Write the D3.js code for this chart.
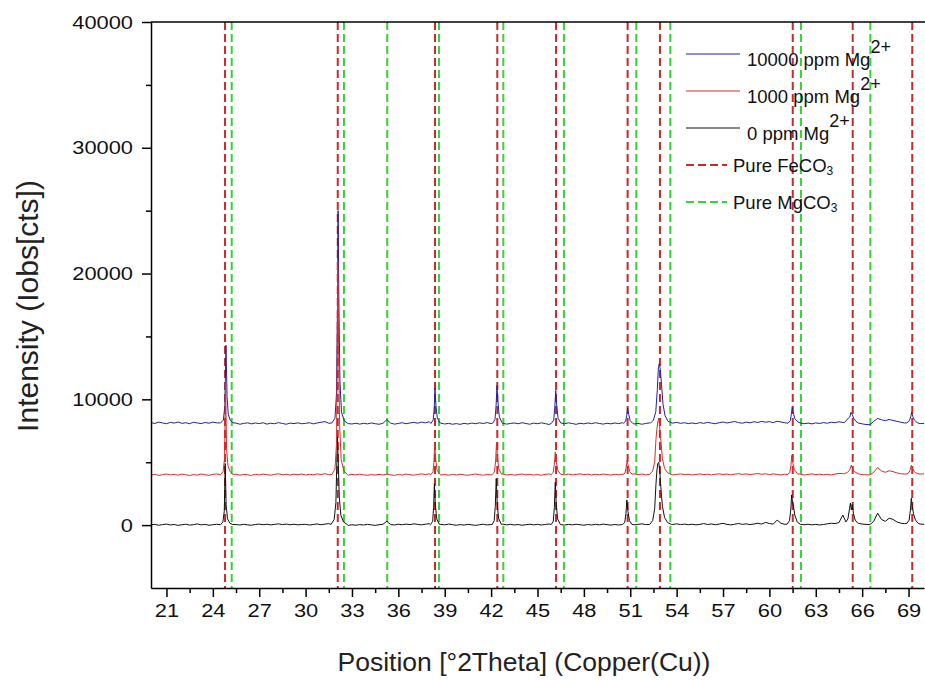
<!DOCTYPE html>
<html>
<head>
<meta charset="utf-8">
<script src="https://cdn.jsdelivr.net/npm/d3@7"></script>
<style>
  body { margin: 0; background: #fff; }
  svg { display: block; font-family: "Liberation Sans", Arial, sans-serif; }
</style>
</head>
<body>
<svg width="925" height="680"></svg>
<script>
// baseline scans, one value every 0.25 deg from 20 to 70
const thetaStart = 20, thetaStep = 0.25;

const blueBase = [
  8150, 8080, 8190, 8120, 8060, 8170, 8110, 8200, 8090, 8140, 8060, 8180, 8120, 8070, 8160, 8100, 8190, 8130, 8060, 8140,
  8100, 8040, 8110, 8020, 8090, 8130, 8050, 8120, 8070, 8140, 8030, 8100, 8060, 8150, 8080, 8020, 8110, 8070, 8130, 8060,
  8090, 8140, 8050, 8120, 8180, 8230, 8100, 8000, 8060, 8110, 7990, 8070, 8040, 8100, 8030, 8090, 8050, 8120, 8060, 8020,
  8090, 8380, 8110, 8030, 8080, 8140, 8060, 8120, 8170, 8100, 8190, 8130, 8220, 8150, 8060, 8110, 8040, 8090, 8020, 8070,
  8010, 8090, 8040, 8110, 8060, 8130, 8080, 8150, 8070, 8120, 8040, 8100, 8030, 8080, 8120, 8060, 8140, 8080, 8020, 8110,
  8060, 8130, 8070, 8000, 8090, 8040, 8110, 8060, 8130, 8080, 8010, 8100, 8050, 8120, 8070, 8140, 8080, 8030, 8100, 8050,
  8120, 8070, 8140, 8060, 8110, 8040, 8090, 8020, 8080, 8130, 8180, 8040, 8090, 8140, 8060, 8110, 8170, 8090, 8140, 8070,
  8120, 8060, 8150, 8090, 8170, 8110, 8060, 8140, 8200, 8120, 8180, 8240, 8150, 8100, 8190, 8130, 8220, 8160, 8250, 8180,
  8230, 8150, 8260, 8200, 8140, 8090, 8150, 8070, 8120, 8060, 8110, 8050, 8130, 8080, 8150, 8100, 8180, 8140, 8220, 8160,
  8260, 8380, 8200, 8100, 8050, 8000, 7980, 8250, 8480, 8380, 8300, 8400, 8320, 8250, 8180, 8120, 8140, 8250, 8150, 8070,
  8090
];
const redBase = [
  3980, 4040, 3950, 4010, 4060, 3990, 4030, 3970, 4050, 4000, 3940, 4020, 3980, 4060, 4000, 3960, 4030, 4070, 4010, 4050,
  4020, 3990, 4050, 3970, 4030, 4000, 3950, 4040, 3990, 4060, 4010, 3970, 4030, 4080, 4000, 4040, 3980, 4050, 4010, 4060,
  3990, 4040, 4000, 4070, 4030, 4090, 4010, 3980, 4020, 3960, 4010, 3970, 4030, 3990, 4050, 4000, 3960, 4020, 3980, 4030,
  3990, 4040, 4000, 3960, 4020, 3980, 4050, 4010, 3970, 4030, 4070, 4020, 4080, 4000, 4040, 3980, 4020, 3970, 4030, 3990,
  4040, 4000, 3960, 4020, 4060, 4010, 3970, 4030, 3990, 4050, 4000, 4060, 3990, 4030, 3970, 4020, 4060, 4000, 4040, 3980,
  4020, 3970, 4030, 4070, 4010, 3980, 4040, 4000, 4060, 3990, 4030, 4080, 4010, 4050, 3990, 4040, 4000, 4060, 4020, 3980,
  4040, 4000, 4060, 3990, 4030, 4080, 4020, 4060, 3990, 4040, 4090, 4020, 4060, 4000, 4050, 3990, 4030, 4070, 4010, 4040,
  3990, 4030, 4070, 4010, 4050, 3990, 4040, 4080, 4020, 4060, 4000, 4050, 4090, 4030, 4070, 4010, 4060, 4100, 4040, 4080,
  4020, 4070, 4030, 3990, 4050, 4010, 4060, 4000, 4040, 3980, 4030, 4070, 4010, 4050, 4000, 4040, 3990, 4060, 4110, 4090,
  4120, 4200, 4100, 4050, 4010, 4000, 3990, 4200, 4580, 4300, 4200, 4320, 4250, 4150, 4080, 4060, 4130, 4210, 4120, 4060,
  4080
];
const blackBase = [
  20, 60, -10, 40, 80, 10, 50, -20, 30, 70, 0, 40, 90, 20, 60, -10, 30, 70, 20, 50,
  30, -20, 40, 10, 60, 20, -10, 50, 80, 30, 70, 20, 60, 100, 40, 80, 30, 70, 20, 50,
  60, 10, 50, 90, 30, 80, 120, 40, 0, 50, 20, -30, 30, -10, 40, 10, 60, 20, -20, 30,
  60, 300, 50, 10, 70, 30, 80, 40, 100, 60, 20, 70, 110, 50, 10, 60, 20, 80, 30, -10,
  40, 0, 60, 20, -20, 30, 70, 10, 50, 0, 40, 80, 20, 60, 10, 50, -10, 30, 70, 20,
  60, 10, 50, 90, 30, -20, 40, 0, 60, 20, 70, 30, -10, 50, 10, 60, 20, 80, 40, 0,
  50, 10, 70, 30, 80, 20, 60, 100, 40, 90, 30, 70, 20, 60, 10, 50, 100, 40, 80, 30,
  70, 20, 60, 120, 50, 90, 30, 80, 140, 60, 20, 70, 130, 60, 100, 40, 90, 150, 80, 220,
  130, 80, 400, 150, 60, 20, 80, 40, 90, 30, 70, 20, 60, 10, 50, 100, 150, 120, 200, 800,
  400, 700, 300, 150, 80, 60, 40, 300, 950, 450, 300, 550, 450, 250, 150, 120, 200, 300, 150, 80,
  60
];

// diffraction peaks, [2theta, counts]
const bluePeaks = [
  [[24.5,8120],[24.68,8350],[24.78,9500],[24.85,14300],[24.92,10200],[25.0,8800],[25.12,8350],[25.3,8130]],
  [[31.7,8120],[31.9,8500],[32.0,10500],[32.06,17000],[32.1,25000],[32.15,18000],[32.22,11500],[32.32,9000],[32.5,8300],[32.7,8110]],
  [[38.1,8080],[38.25,8350],[38.32,9300],[38.37,10870],[38.43,9500],[38.52,8500],[38.7,8120]],
  [[42.1,8100],[42.25,8400],[42.32,9500],[42.38,11100],[42.44,9800],[42.53,8600],[42.7,8150]],
  [[45.9,8090],[46.05,8350],[46.12,9400],[46.18,10700],[46.24,9600],[46.33,8500],[46.5,8120]],
  [[50.55,8100],[50.7,8250],[50.77,8700],[50.83,9300],[50.9,8800],[51.0,8300],[51.15,8100]],
  [[52.3,8100],[52.5,8350],[52.65,9000],[52.75,10800],[52.82,12500],[52.88,12850],[52.95,12300],[53.02,11200],[53.12,9600],[53.25,8700],[53.45,8250],[53.7,8120]],
  [[61.2,8100],[61.35,8300],[61.42,8800],[61.48,9370],[61.55,8900],[61.65,8450],[61.85,8200]],
  [[64.85,8150],[65.0,8350],[65.1,8500],[65.2,8600],[65.28,8970],[65.35,8800],[65.45,8500],[65.6,8250],[65.75,8120]],
  [[68.9,8130],[69.05,8300],[69.14,8600],[69.2,8970],[69.27,8650],[69.38,8350],[69.55,8150]]
];
const redPeaks = [
  [[24.5,4010],[24.66,4250],[24.76,5300],[24.82,11500],[24.89,6000],[24.98,4700],[25.12,4250],[25.3,4030]],
  [[31.7,4020],[31.9,4450],[32.0,6500],[32.05,14000],[32.08,21000],[32.13,15000],[32.2,8000],[32.3,5200],[32.48,4300],[32.7,4020]],
  [[38.1,4000],[38.24,4250],[38.3,5000],[38.35,6500],[38.41,5300],[38.5,4400],[38.68,4050]],
  [[42.08,4020],[42.22,4250],[42.29,5100],[42.35,6550],[42.41,5400],[42.5,4450],[42.68,4050]],
  [[45.88,4010],[46.02,4200],[46.09,4850],[46.15,5800],[46.22,5000],[46.32,4350],[46.5,4040]],
  [[50.52,4010],[50.66,4150],[50.74,4600],[50.8,5150],[50.87,4700],[50.97,4250],[51.12,4050]],
  [[52.25,4030],[52.45,4300],[52.58,5000],[52.66,6800],[52.72,7600],[52.78,8200],[52.84,8500],[52.9,7900],[52.98,6700],[53.08,5300],[53.22,4500],[53.42,4150],[53.65,4030]],
  [[61.18,4020],[61.32,4200],[61.39,4750],[61.45,5550],[61.52,4900],[61.62,4400],[61.82,4080]],
  [[64.85,4080],[65.05,4200],[65.18,4350],[65.3,4760],[65.38,4500],[65.5,4250],[65.75,4080]],
  [[68.9,4070],[69.04,4200],[69.12,4450],[69.18,4760],[69.26,4500],[69.38,4250],[69.55,4100]]
];
const blackPeaks = [
  [[24.5,30],[24.65,250],[24.74,1100],[24.8,4900],[24.86,1600],[24.95,500],[25.1,150],[25.3,40]],
  [[31.65,60],[31.85,450],[31.96,1800],[32.02,5000],[32.06,7000],[32.11,5200],[32.18,2200],[32.28,800],[32.45,250],[32.7,50]],
  [[38.08,40],[38.22,300],[38.28,1400],[38.33,3300],[38.39,1700],[38.48,500],[38.65,60]],
  [[42.06,30],[42.2,350],[42.27,1500],[42.33,3700],[42.39,1800],[42.48,550],[42.66,50]],
  [[45.88,40],[46.02,300],[46.09,1400],[46.15,3400],[46.21,1700],[46.3,500],[46.48,40]],
  [[50.5,40],[50.64,200],[50.72,900],[50.78,2000],[50.85,1100],[50.95,350],[51.1,60]],
  [[52.25,50],[52.45,350],[52.58,1300],[52.66,3200],[52.72,4300],[52.78,4900],[52.84,5000],[52.9,4400],[52.98,3000],[53.08,1500],[53.22,600],[53.42,200],[53.65,60]],
  [[61.15,80],[61.3,350],[61.38,1200],[61.44,2400],[61.5,1800],[61.56,1500],[61.64,800],[61.8,250],[62.0,60]],
  [[64.95,250],[65.08,500],[65.18,1300],[65.24,1750],[65.3,1200],[65.36,1650],[65.44,900],[65.55,400],[65.7,180]],
  [[68.9,150],[69.04,400],[69.12,1200],[69.18,2140],[69.24,1500],[69.32,900],[69.45,400],[69.62,150]]
];

// reference patterns
const feco3Lines = [24.79, 32.08, 38.37, 42.40, 46.20, 50.83, 52.92, 61.51, 65.39, 69.24];
const mgco3Lines = [25.22, 32.48, 35.28, 38.63, 42.79, 46.71, 51.39, 53.59, 62.04, 66.53];

const xMajor = [21, 24, 27, 30, 33, 36, 39, 42, 45, 48, 51, 54, 57, 60, 63, 66, 69];
const xMinor = [22.5, 25.5, 28.5, 31.5, 34.5, 37.5, 40.5, 43.5, 46.5, 49.5, 52.5, 55.5, 58.5, 61.5, 64.5, 67.5];
const yMajor = [0, 10000, 20000, 30000, 40000];
const yMinor = [5000, 15000, 25000, 35000];

const blueCol = "#22229c", redCol = "#d42f2f", blackCol = "#111111";
const feCol = "#c62a2a", mgCol = "#33d433";

function buildTrace(base, peaks) {
  var pts = base.map((v, i) => [thetaStart + i * thetaStep, v])
    .filter(d => !peaks.some(p => d[0] >= p[0][0] && d[0] <= p[p.length - 1][0]));
  peaks.forEach(p => { pts = pts.concat(p); });
  return pts.sort((a, b) => a[0] - b[0]);
}

const svg = d3.select("svg");
const pLeft = 151, pRight = 924, pTop = 22, pBottom = 588;

const x = d3.scaleLinear().domain([20, 70]).range([pLeft, pRight]);
const y = d3.scaleLinear().domain([-5000, 40000]).range([pBottom, pTop]);

svg.append("defs").append("clipPath").attr("id", "plotclip")
  .append("rect").attr("x", pLeft).attr("y", pTop).attr("width", pRight - pLeft).attr("height", pBottom - pTop);

const plot = svg.append("g").attr("clip-path", "url(#plotclip)");

// dashed reference lines
plot.selectAll("line.fe").data(feco3Lines).enter().append("line")
  .attr("class", "fe")
  .attr("x1", d => x(d)).attr("x2", d => x(d))
  .attr("y1", pTop).attr("y2", pBottom)
  .attr("stroke", feCol).attr("stroke-width", 2).attr("stroke-dasharray", "8,4");
plot.selectAll("line.mg").data(mgco3Lines).enter().append("line")
  .attr("class", "mg")
  .attr("x1", d => x(d)).attr("x2", d => x(d))
  .attr("y1", pTop).attr("y2", pBottom)
  .attr("stroke", mgCol).attr("stroke-width", 2).attr("stroke-dasharray", "8,4");

const line = d3.line().x(d => x(d[0])).y(d => y(d[1]));

const traces = [
  { data: buildTrace(blackBase, blackPeaks), color: blackCol },
  { data: buildTrace(blueBase, bluePeaks), color: blueCol },
  { data: buildTrace(redBase, redPeaks), color: redCol }
];
plot.selectAll("path.trace").data(traces).enter().append("path")
  .attr("class", "trace")
  .attr("d", d => line(d.data))
  .attr("fill", "none")
  .attr("stroke", d => d.color)
  .attr("stroke-width", 1)
  .attr("stroke-linejoin", "round");

// axes
const gx = svg.append("g").attr("transform", `translate(0,${pBottom})`)
  .call(d3.axisBottom(x).tickValues(xMajor).tickSize(9).tickSizeOuter(0).tickPadding(7));
svg.append("g").attr("transform", `translate(0,${pBottom})`)
  .call(d3.axisBottom(x).tickValues(xMinor).tickSize(5).tickFormat(""))
  .select(".domain").remove();

const gy = svg.append("g").attr("transform", `translate(${pLeft},0)`)
  .call(d3.axisLeft(y).tickValues(yMajor).tickSize(9).tickSizeOuter(0).tickPadding(8).tickFormat(d3.format("d")));
svg.append("g").attr("transform", `translate(${pLeft},0)`)
  .call(d3.axisLeft(y).tickValues(yMinor).tickSize(5).tickFormat(""))
  .select(".domain").remove();

svg.selectAll(".domain, .tick line").attr("stroke", "#000").attr("stroke-width", 1.5);
svg.selectAll(".tick text").attr("fill", "#111").style("font-size", "19px");
// the original labels are a little wider than plain Arial
gx.selectAll(".tick text").attr("transform", "scale(1.15,1)");
gy.selectAll(".tick text").attr("x", -18 / 1.15).attr("transform", "scale(1.15,1)");

// top frame
svg.append("line").attr("x1", pLeft).attr("x2", pRight + 1).attr("y1", pTop).attr("y2", pTop)
  .attr("stroke", "#000").attr("stroke-width", 1.5);

// axis titles
svg.append("text").attr("x", 524).attr("y", 671).attr("text-anchor", "middle")
  .style("font-size", "26.5px").attr("fill", "#222")
  .text("Position [°2Theta] (Copper(Cu))");
svg.append("text").attr("transform", "translate(38,306) rotate(-90)").attr("text-anchor", "middle")
  .style("font-size", "30px").attr("fill", "#222")
  .text("Intensity (Iobs[cts])");

// legend
const legendItems = [
  { label: "10000 ppm Mg", sup: "2+", color: blueCol, dash: null },
  { label: "1000 ppm Mg", sup: "2+", color: redCol, dash: null },
  { label: "0 ppm Mg", sup: "2+", color: blackCol, dash: null },
  { label: "Pure FeCO", sub: "3", color: feCol, dash: "8,4" },
  { label: "Pure MgCO", sub: "3", color: mgCol, dash: "8,4" }
];
const lg = svg.append("g");
legendItems.forEach((d, i) => {
  const cy = 54 + i * 37;
  lg.append("line")
    .attr("x1", 686).attr("x2", d.dash ? 727 : 740)
    .attr("y1", cy).attr("y2", cy)
    .attr("stroke", d.color)
    .attr("stroke-width", d.dash ? 2 : 1.2)
    .attr("stroke-dasharray", d.dash);
  const t = lg.append("text").attr("x", d.dash ? 733 : 747).attr("y", cy + (d.dash ? 7 : 12))
    .style("font-size", "18.5px").attr("fill", "#111");
  t.append("tspan").text(d.label);
  if (d.sup) t.append("tspan").attr("dy", -13).style("font-size", "18px").text(d.sup);
  if (d.sub) t.append("tspan").attr("dy", 3).style("font-size", "12px").text(d.sub);
});
</script>
</body>
</html>
